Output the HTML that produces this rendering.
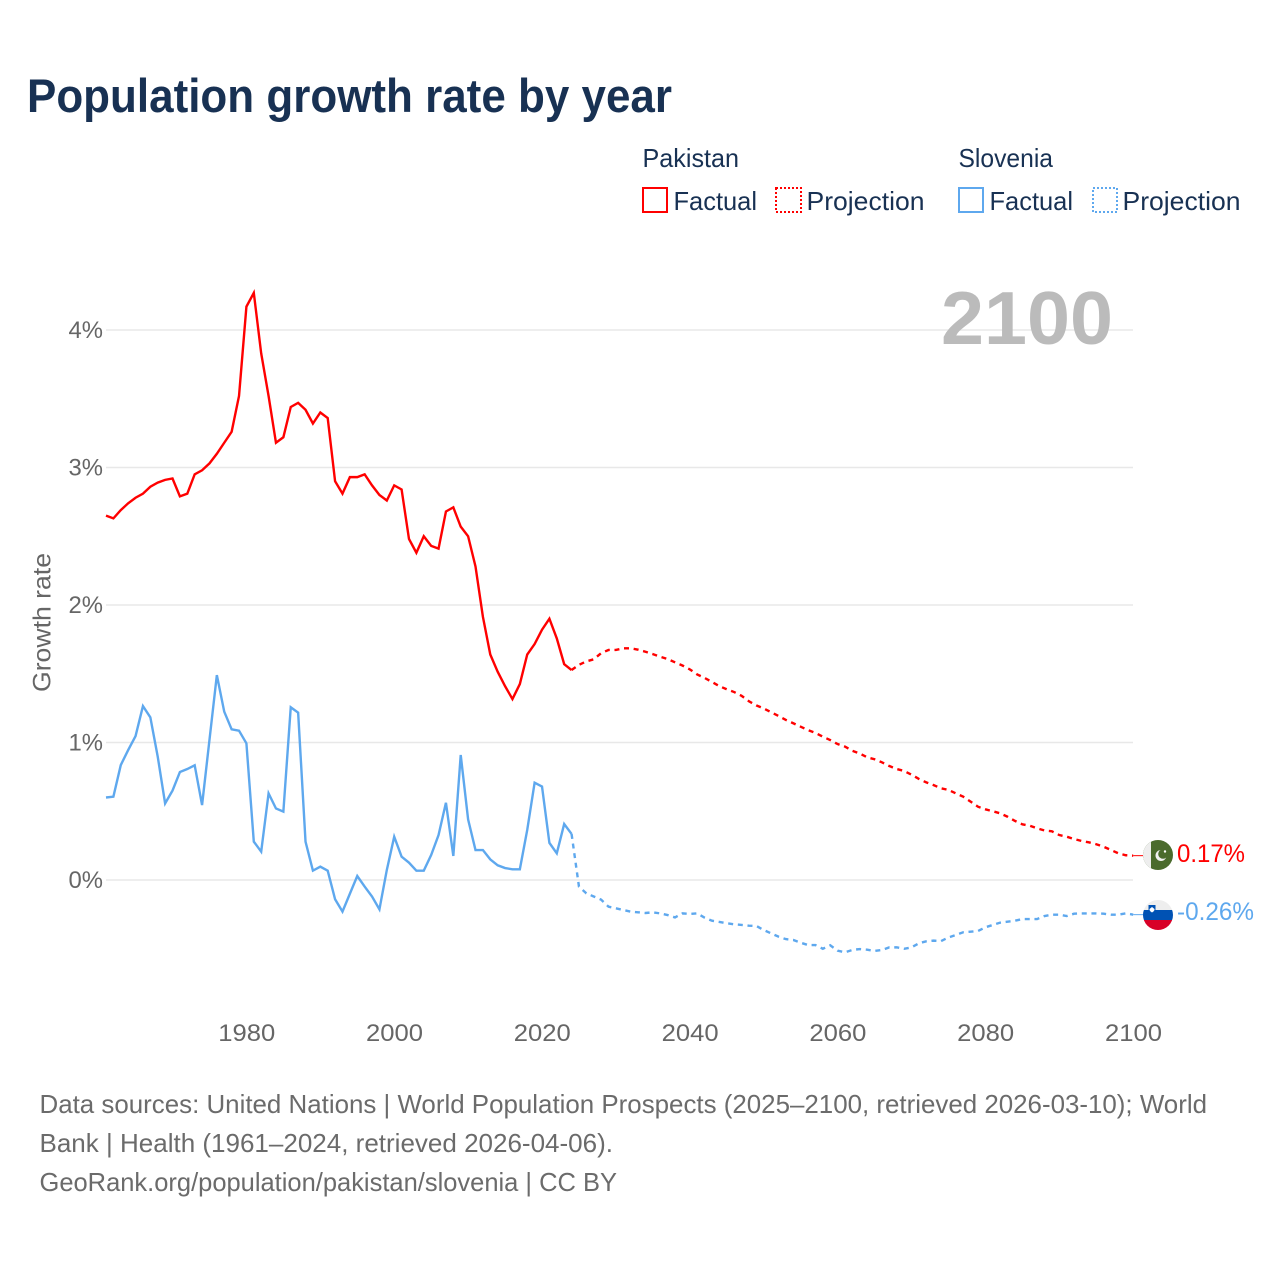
<!DOCTYPE html>
<html lang="en">
<head>
<meta charset="utf-8">
<title>Population growth rate by year</title>
<style>
html,body{margin:0;padding:0;background:#fff;}
svg{display:block;font-family:"Liberation Sans",sans-serif;}
</style>
</head>
<body>
<svg id="chart" width="1280" height="1280" viewBox="0 0 1280 1280" xmlns="http://www.w3.org/2000/svg">
  <rect x="0" y="0" width="1280" height="1280" fill="#ffffff"/>
  <text x="27" y="112" font-size="47" font-weight="700" fill="#183153" textLength="645" lengthAdjust="spacingAndGlyphs">Population growth rate by year</text>

  <g font-size="26" fill="#183153">
    <text x="642.500" y="167" textLength="96.500" lengthAdjust="spacingAndGlyphs">Pakistan</text>
    <text x="958.500" y="167" textLength="94.500" lengthAdjust="spacingAndGlyphs">Slovenia</text>
    <rect x="643" y="188" width="24" height="24" fill="none" stroke="#ff0000" stroke-width="2"/>
    <text x="673.500" y="210" textLength="83.500" lengthAdjust="spacingAndGlyphs">Factual</text>
    <rect x="776" y="188" width="25" height="24" fill="none" stroke="#ff0000" stroke-width="2" stroke-dasharray="2 2"/>
    <text x="806.500" y="210" textLength="118" lengthAdjust="spacingAndGlyphs">Projection</text>
    <rect x="959" y="188" width="24" height="24" fill="none" stroke="#5ea8ee" stroke-width="2"/>
    <text x="989.500" y="210" textLength="83.500" lengthAdjust="spacingAndGlyphs">Factual</text>
    <rect x="1093" y="188" width="24" height="24" fill="none" stroke="#5ea8ee" stroke-width="2" stroke-dasharray="2 2"/>
    <text x="1122.500" y="210" textLength="118" lengthAdjust="spacingAndGlyphs">Projection</text>
  </g>

  <g id="grid"></g>
  <g id="yticks"></g>
  <g id="xticks"></g>

  <text transform="translate(50.500,692) rotate(-90)" x="0" y="0" font-size="25" fill="#666666" textLength="139" lengthAdjust="spacingAndGlyphs">Growth rate</text>

  <text x="941" y="344" font-size="75" font-weight="700" fill="#bbbbbb" textLength="172" lengthAdjust="spacingAndGlyphs">2100</text>

  <g id="series"></g>

  <g id="flag-pakistan">
    <clipPath id="clip-pk"><circle id="clip-pk-circle" cx="1158" cy="855" r="15"/></clipPath>
    <g clip-path="url(#clip-pk)">
      <rect x="1143" y="840" width="30" height="30" fill="#4b6b2d"/>
      <rect x="1143" y="840" width="8" height="30" fill="#eeeeee"/>
      <circle cx="1161" cy="855.500" r="5.500" fill="#f2f2f2"/>
      <circle cx="1163" cy="854" r="4.800" fill="#4b6b2d"/>
      <circle cx="1165" cy="851.500" r="1.200" fill="#ffffff"/>
    </g>
  </g>
  <g id="flag-slovenia">
    <clipPath id="clip-si"><circle cx="1158" cy="915" r="15"/></clipPath>
    <g clip-path="url(#clip-si)">
      <rect x="1143" y="900" width="30" height="10" fill="#eeeeee"/>
      <rect x="1143" y="910" width="30" height="10" fill="#0052b4"/>
      <rect x="1143" y="920" width="30" height="10" fill="#d80027"/>
      <path d="M1148.500 905 h7 v5 q0 3 -3.500 4 q-3.500 -1 -3.500 -4 z" fill="#0052b4"/>
      <path d="M1149.500 909 l2.500 -2 l2.500 2 v1 q-1 2 -2.500 2.500 q-1.500 -0.500 -2.500 -2.500 z" fill="#ffffff"/>
    </g>
  </g>

  <text id="label-pakistan" x="1177" y="862" font-size="25" fill="#ff0000" textLength="68" lengthAdjust="spacingAndGlyphs"></text>
  <text id="label-slovenia" x="1177" y="920" font-size="25" fill="#5ea8ee" textLength="77" lengthAdjust="spacingAndGlyphs"></text>

  <g font-size="26" fill="#6b6b6b">
    <text x="39.500" y="1113" textLength="1167.500" lengthAdjust="spacingAndGlyphs">Data sources: United Nations | World Population Prospects (2025–2100, retrieved 2026-03-10); World</text>
    <text x="39.500" y="1152" textLength="573.500" lengthAdjust="spacingAndGlyphs">Bank | Health (1961–2024, retrieved 2026-04-06).</text>
    <text x="39.500" y="1191" textLength="577.500" lengthAdjust="spacingAndGlyphs">GeoRank.org/population/pakistan/slovenia | CC BY</text>
  </g>
</svg>

<script>
const firstFactualYear = 1961;
const firstProjectionYear = 2024;
const pakistanFactual = [2.65,2.63,2.69,2.74,2.78,2.81,2.86,2.89,2.91,2.92,2.79,2.81,2.95,2.98,3.03,3.10,3.18,3.26,3.52,4.17,4.27,3.83,3.52,3.18,3.22,3.44,3.47,3.42,3.32,3.40,3.36,2.90,2.81,2.93,2.93,2.95,2.87,2.80,2.76,2.87,2.84,2.48,2.38,2.50,2.43,2.41,2.68,2.71,2.57,2.50,2.28,1.915,1.64,1.515,1.41,1.316,1.425,1.64,1.716,1.82,1.90,1.757,1.57,1.527];
const pakistanProjection = [1.527,1.565,1.59,1.605,1.65,1.673,1.673,1.685,1.685,1.675,1.66,1.643,1.624,1.607,1.583,1.56,1.532,1.495,1.47,1.44,1.41,1.387,1.367,1.34,1.30,1.27,1.248,1.22,1.193,1.164,1.14,1.115,1.09,1.07,1.042,1.018,0.989,0.97,0.94,0.92,0.892,0.878,0.856,0.829,0.807,0.793,0.766,0.735,0.71,0.69,0.667,0.655,0.63,0.606,0.57,0.533,0.514,0.50,0.485,0.46,0.43,0.405,0.395,0.376,0.36,0.354,0.327,0.315,0.298,0.284,0.274,0.26,0.242,0.218,0.194,0.18,0.177];
const sloveniaFactual = [0.60,0.606,0.836,0.945,1.047,1.265,1.183,0.897,0.557,0.65,0.785,0.807,0.834,0.545,1.018,1.49,1.224,1.096,1.086,0.994,0.279,0.206,0.63,0.52,0.497,1.256,1.217,0.279,0.068,0.097,0.068,-0.14,-0.23,-0.10,0.029,-0.048,-0.12,-0.213,0.073,0.315,0.17,0.126,0.068,0.068,0.182,0.327,0.562,0.175,0.909,0.441,0.218,0.218,0.15,0.107,0.087,0.078,0.078,0.364,0.708,0.68,0.27,0.194,0.407,0.335];
const sloveniaProjection = [0.335,-0.048,-0.097,-0.12,-0.143,-0.194,-0.206,-0.218,-0.23,-0.235,-0.24,-0.235,-0.243,-0.255,-0.272,-0.243,-0.247,-0.243,-0.274,-0.296,-0.305,-0.315,-0.322,-0.327,-0.332,-0.334,-0.364,-0.388,-0.412,-0.43,-0.436,-0.456,-0.473,-0.473,-0.50,-0.475,-0.514,-0.526,-0.509,-0.502,-0.507,-0.516,-0.509,-0.49,-0.49,-0.50,-0.49,-0.46,-0.446,-0.441,-0.444,-0.418,-0.40,-0.38,-0.376,-0.371,-0.344,-0.327,-0.31,-0.303,-0.296,-0.284,-0.284,-0.284,-0.262,-0.252,-0.252,-0.262,-0.245,-0.243,-0.243,-0.243,-0.245,-0.252,-0.252,-0.243,-0.252];
const yTickValues = [0,1,2,3,4];
const yTickLabels = ["0%","1%","2%","3%","4%"];
const xTickValues = [1980,2000,2020,2040,2060,2080,2100];
const xTickLabels = ["1980","2000","2020","2040","2060","2080","2100"];
const endLabelPakistan = "0.17%";
const endLabelSlovenia = "-0.26%";

const NS = "http://www.w3.org/2000/svg";
function xScale(year){ return 106 + (year - 1961) * (1133.2 - 106) / (2100 - 1961); }
function yScale(value){ return 880 - value * 137.5; }
function pathFor(values, startYear){
  return values.map(function(v, i){
    return (i ? "L" : "M") + xScale(startYear + i).toFixed(2) + " " + yScale(v).toFixed(2);
  }).join(" ");
}

const gridGroup = document.getElementById("grid");
const yGroup = document.getElementById("yticks");
yTickValues.forEach(function(v, i){
  const line = document.createElementNS(NS, "line");
  
  
  line.setAttribute("x1", 106);
  line.setAttribute("x2", 1133);
  line.setAttribute("y1", yScale(v));
  line.setAttribute("y2", yScale(v));
  line.setAttribute("stroke", "#e8e8e8");
  line.setAttribute("stroke-width", "1.5");
  gridGroup.appendChild(line);

  const t = document.createElementNS(NS, "text");
  
  
  t.setAttribute("x", 68.5);
  t.setAttribute("y", yScale(v) + 8);
  t.setAttribute("font-size", "24.5");
  t.setAttribute("fill", "#666666");
  t.setAttribute("textLength", "34.5");
  t.setAttribute("lengthAdjust", "spacingAndGlyphs");
  t.textContent = yTickLabels[i];
  yGroup.appendChild(t);
});

const xGroup = document.getElementById("xticks");
xTickValues.forEach(function(v, i){
  const t = document.createElementNS(NS, "text");
  
  
  t.setAttribute("x", xScale(v) - 28.2);
  t.setAttribute("y", 1041);
  t.setAttribute("font-size", "24.5");
  t.setAttribute("fill", "#666666");
  t.setAttribute("textLength", "57");
  t.setAttribute("lengthAdjust", "spacingAndGlyphs");
  t.textContent = xTickLabels[i];
  xGroup.appendChild(t);
});

const seriesGroup = document.getElementById("series");
function addSeries(values, startYear, color, dashed, name){
  const p = document.createElementNS(NS, "path");
  
  
  p.setAttribute("d", pathFor(values, startYear));
  p.setAttribute("fill", "none");
  p.setAttribute("stroke", color);
  p.setAttribute("stroke-width", "2.4");
  p.setAttribute("stroke-linejoin", "miter");
  if (dashed) p.setAttribute("stroke-dasharray", "5 4.7");
  seriesGroup.appendChild(p);
}
addSeries(pakistanFactual, firstFactualYear, "#ff0000", false, "pakistan-factual-line");
addSeries(pakistanProjection, firstProjectionYear, "#ff0000", true, "pakistan-projection-line");
addSeries(sloveniaFactual, firstFactualYear, "#5ea8ee", false, "slovenia-factual-line");
addSeries(sloveniaProjection, firstProjectionYear, "#5ea8ee", true, "slovenia-projection-line");

function addConnector(value, color, name){
  const c = document.createElementNS(NS, "line");
  
  
  c.setAttribute("x1", xScale(2100));
  c.setAttribute("x2", 1143);
  c.setAttribute("y1", yScale(value));
  c.setAttribute("y2", yScale(value));
  c.setAttribute("stroke", color);
  c.setAttribute("stroke-width", "1");
  seriesGroup.appendChild(c);
}
addConnector(pakistanProjection[pakistanProjection.length - 1], "#ff0000", "pakistan-connector");
addConnector(sloveniaProjection[sloveniaProjection.length - 1], "#5ea8ee", "slovenia-connector");

document.getElementById("label-pakistan").textContent = endLabelPakistan;
document.getElementById("label-slovenia").textContent = endLabelSlovenia;
</script>
</body>
</html>
